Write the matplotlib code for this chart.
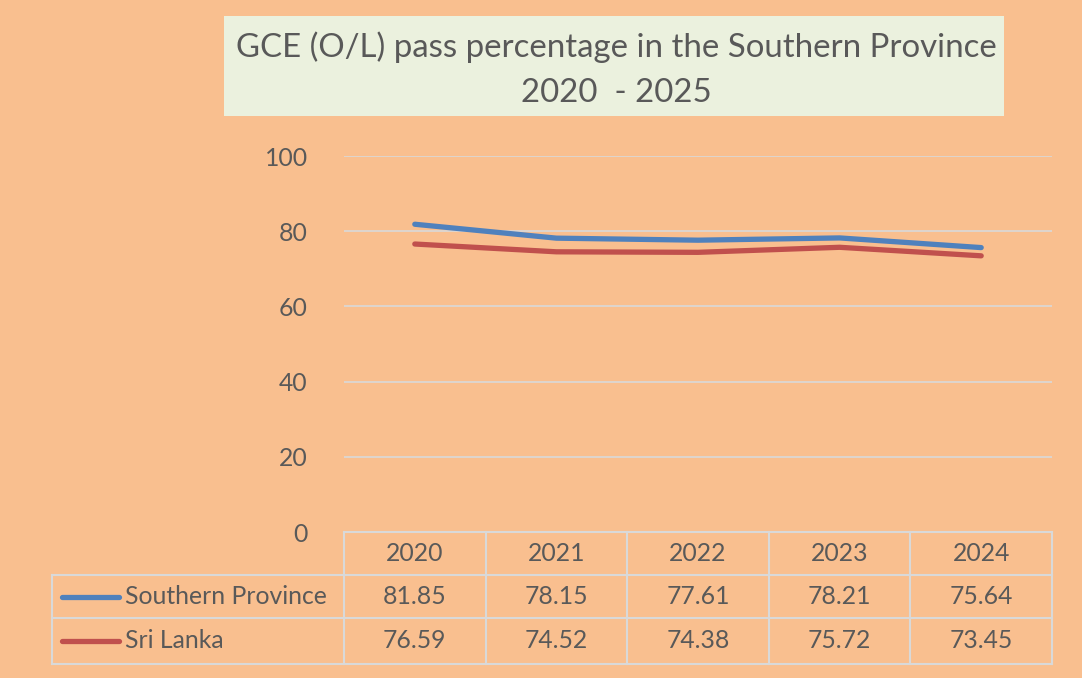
import numpy as np
import matplotlib.pyplot as plt
from matplotlib.lines import Line2D
from matplotlib.patches import Rectangle

years = ['2020', '2021', '2022', '2023', '2024']
southern = [81.85, 78.15, 77.61, 78.21, 75.64]
sri_lanka = [76.59, 74.52, 74.38, 75.72, 73.45]
series_names = ['Southern Province', 'Sri Lanka']
y_ticks = [0, 20, 40, 60, 80, 100]
title_lines = ['GCE (O/L) pass percentage in the Southern Province', '2020  - 2025']

W, H = 1082, 678
bg = '#F9BF8F'
grid_col = '#D9D9D9'
txt_col = '#595959'
blue = '#4F81BD'
red = '#C0504D'
plt.rcParams['font.family'] = ['Lato', 'DejaVu Sans']
fs = 17.8

def fx(x):
    return x / W

def fy(y):
    return 1 - y / H

fig = plt.figure(figsize=(W / 100, H / 100), dpi=100, facecolor=bg)

# область графика
x0, x1, ytop, ybot = 344, 1052, 156, 532
ax = fig.add_axes([fx(x0), fy(ybot), fx(x1) - fx(x0), fy(ytop) - fy(ybot)])
ax.set_facecolor(bg)
xs = np.arange(len(years))
ax.plot(xs, southern, color=blue, lw=3.8, solid_capstyle='round')
ax.plot(xs, sri_lanka, color=red, lw=3.8, solid_capstyle='round')
ax.set_xlim(-0.5, len(years) - 0.5)
ax.set_ylim(0, 100)
for v in y_ticks[1:]:
    ax.axhline(v, color=grid_col, lw=1.2, zorder=0)
ax.set_yticks(y_ticks)
ax.set_yticklabels([str(v) for v in y_ticks])
ax.tick_params(axis='y', length=0, pad=26, labelsize=fs, labelcolor=txt_col)
ax.set_xticks([])
for s in ax.spines.values():
    s.set_visible(False)

# заголовок
fig.add_artist(Rectangle((fx(224), fy(116)), fx(1004) - fx(224), fy(16) - fy(116),
                         transform=fig.transFigure, facecolor='#EBF1DE', edgecolor='none'))
fig.text(fx(616), fy(47), title_lines[0], ha='center', va='center', fontsize=23.8, color=txt_col)
fig.text(fx(616), fy(93), title_lines[1], ha='center', va='center', fontsize=23.8, color=txt_col)

# таблица данных
def hline(xa, xb, y):
    fig.add_artist(Line2D([fx(xa), fx(xb)], [fy(y), fy(y)], transform=fig.transFigure,
                          color=grid_col, lw=1.5))

def vline(x, ya, yb):
    fig.add_artist(Line2D([fx(x), fx(x)], [fy(ya), fy(yb)], transform=fig.transFigure,
                          color=grid_col, lw=1.5))

rows_y = [532, 575, 618, 664]
hline(x0, x1, rows_y[0])
for y in rows_y[1:]:
    hline(52, x1, y)
vline(52, rows_y[1], rows_y[3])
col_w = (x1 - x0) / len(years)
for i in range(len(years) + 1):
    vline(x0 + i * col_w, rows_y[0], rows_y[3])

centers_y = [(rows_y[i] + rows_y[i + 1]) / 2 for i in range(3)]
for i, yr in enumerate(years):
    cx = x0 + (i + 0.5) * col_w
    fig.text(fx(cx), fy(centers_y[0]), yr, ha='center', va='center', fontsize=fs, color=txt_col)
    fig.text(fx(cx), fy(centers_y[1]), f'{southern[i]:.2f}', ha='center', va='center',
             fontsize=fs, color=txt_col)
    fig.text(fx(cx), fy(centers_y[2]), f'{sri_lanka[i]:.2f}', ha='center', va='center',
             fontsize=fs, color=txt_col)

for name, col, cy in zip(series_names, [blue, red], centers_y[1:]):
    fig.add_artist(Line2D([fx(62), fx(119)], [fy(cy), fy(cy)], transform=fig.transFigure,
                          color=col, lw=3.8, solid_capstyle='round'))
    fig.text(fx(125), fy(cy), name, ha='left', va='center', fontsize=fs, color=txt_col)

fig.savefig('out.png', dpi=100, facecolor=bg)
